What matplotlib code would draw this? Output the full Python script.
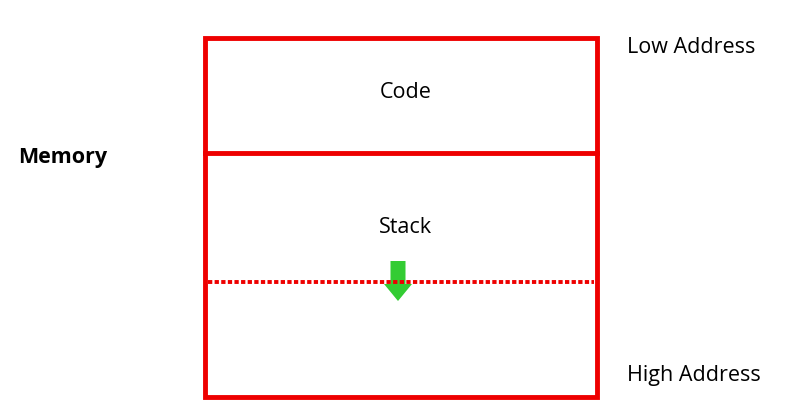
import matplotlib.pyplot as plt
from matplotlib.patches import Rectangle, FancyArrow

plt.rcParams['font.family'] = ['Open Sans', 'DejaVu Sans']

# layout of the memory box, in pixels
box_left, box_right = 205, 597
box_top, box_bottom = 38, 397
code_bottom = 153
stack_limit = 282

regions = ['Code', 'Stack']
region_y = [92, 227]
side_labels = ['Low Address', 'High Address']
side_y = [47, 375]

red = '#ee0000'
green = '#33cc33'

fig = plt.figure(figsize=(7.85, 4.17), dpi=100)
ax = fig.add_axes([0, 0, 1, 1])
ax.set_xlim(0, 785)
ax.set_ylim(417, 0)
ax.axis('off')

ax.add_patch(Rectangle((box_left, box_top), box_right - box_left, box_bottom - box_top,
                       fill=False, edgecolor=red, lw=3.5))
ax.plot([box_left, box_right], [code_bottom, code_bottom], color=red, lw=3.5)
ax.plot([box_left + 3, box_right - 3], [stack_limit, stack_limit], color=red, lw=2.8,
        linestyle=(0, (1.1, 0.6)))

# stack growth arrow
ax.add_patch(FancyArrow(398, 261, 0, 40, width=15, head_width=28, head_length=17,
                        length_includes_head=True, color=green, lw=0))

mid = (box_left + box_right) / 2
for name, y in zip(regions, region_y):
    ax.text(mid + 5, y, name, ha='center', va='center', fontsize=15.5)
for name, y in zip(side_labels, side_y):
    ax.text(627, y, name, ha='left', va='center', fontsize=15.5)
ax.text(18, 157, 'Memory', ha='left', va='center', fontsize=15.5, fontweight='bold')

fig.savefig('out.png', dpi=100)
